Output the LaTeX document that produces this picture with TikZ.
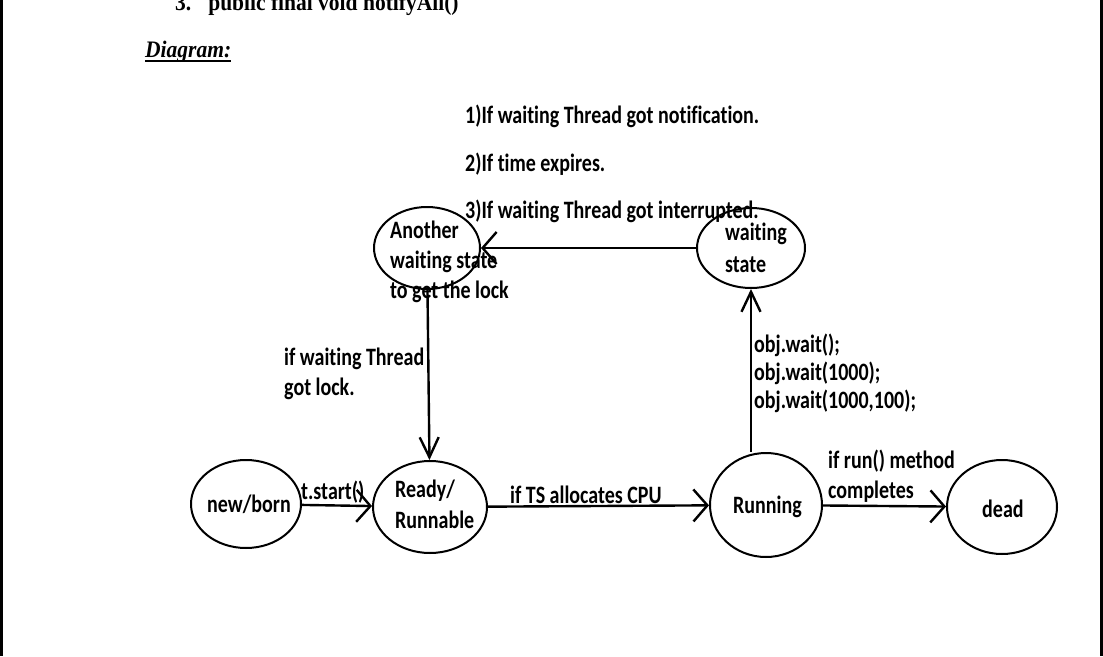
\documentclass[tikz,border=0pt]{standalone}
\usepackage{fontspec}
\setmainfont{Carlito}[Ligatures={NoCommon,NoRare},Contextuals=NoAlternate]
\newfontfamily\timesf{Liberation Serif}
\usetikzlibrary{shapes.geometric,arrows.meta}
\newcommand\vs[1]{\scalebox{1}[1.25]{#1}}
\tikzset{
  st/.style={ellipse, draw, line width=2pt, inner sep=0pt},
  lbl/.style={inner sep=0pt, anchor=base west, font=\fontsize{20}{24}\selectfont\bfseries},
  arrh/.style={line width=2.4pt, -{Straight Barb[length=14pt,width=32pt]}},
  arrv/.style={line width=2.4pt, -{Straight Barb[length=20pt,width=19pt]}},
}
\begin{document}
\begin{tikzpicture}[x=1pt,y=-1pt]
\path[use as bounding box] (0,0) rectangle (1103,656);
% page borders
\draw[line width=3pt] (1.5,0) -- (1.5,656);
\draw[line width=3pt] (1101.5,0) -- (1101.5,656);
% heading texts
\node[inner sep=0pt, anchor=base west, font=\timesf\bfseries\fontsize{21.5}{24}\selectfont] (top) at (175,10) {\scalebox{1}[1.1]{3.\hspace{17pt}public final void notifyAll()}};
\node[inner sep=0pt, anchor=base west, font=\timesf\bfseries\itshape\fontsize{21.5}{24}\selectfont] (diag) at (145,57) {\scalebox{1}[1.1]{Diagram:}};
\draw[line width=2.2pt] ([yshift=-4pt]diag.base west) -- ([yshift=-4pt]diag.base east);
% states
\node[st, minimum width=110pt, minimum height=88pt] (newborn) at (246,504) {};
\node[st, minimum width=114pt, minimum height=92pt] (ready) at (430,507) {};
\node[st, minimum width=112pt, minimum height=104pt] (running) at (766,505) {};
\node[st, minimum width=110pt, minimum height=94pt] (dead) at (1002,507) {};
\node[st, minimum width=106pt, minimum height=82pt] (another) at (427,248) {};
\node[st, minimum width=108pt, minimum height=80pt] (waiting) at (751,248) {};
% state texts
\node[lbl] (t1) at (207,512) {\vs{new/born}};
\node[lbl] (t2) at (395,497) {\vs{Ready/}};
\node[lbl] (t3) at (395,528) {\vs{Runnable}};
\node[lbl] (t4) at (733,513) {\vs{Running}};
\node[lbl] (t5) at (982,517) {\vs{dead}};
\node[lbl] (t6) at (390,238) {\vs{Another}};
\node[lbl] (t7) at (390,268) {\vs{waiting state}};
\node[lbl] (t8) at (390,298) {\vs{to get the lock}};
\node[lbl] (t9) at (725,240) {\vs{waiting}};
\node[lbl] (t10) at (725,272) {\vs{state}};
% connector labels
\node[lbl] (c1) at (465,123) {\vs{1)If waiting Thread got notification.}};
\node[lbl] (c2) at (465,171) {\vs{2)If time expires.}};
\node[lbl] (c3) at (465,218) {\vs{3)If waiting Thread got interrupted.}};
\node[lbl] (c4) at (284,365) {\vs{if waiting Thread}};
\node[lbl] (c5) at (284,395) {\vs{got lock.}};
\node[lbl] (c6) at (754,352) {\vs{obj.wait();}};
\node[lbl] (c7) at (754,380) {\vs{obj.wait(1000);}};
\node[lbl] (c8) at (754,408) {\vs{obj.wait(1000,100);}};
\node[lbl] (c9) at (828,468) {\vs{if run() method}};
\node[lbl] (c10) at (828,498) {\vs{completes}};
\node[lbl] (c11) at (301,499) {\vs{t.start()}};
\node[lbl] (c12) at (510,503) {\vs{if TS allocates CPU}};
% connectors
\draw[arrh] (newborn) -- (ready);
\draw[arrh] (ready) -- (running);
\draw[arrh] (running) -- (dead);
\draw[arrh] (waiting) -- (another);
\draw[arrv] (another) -- (ready);
\draw[arrv] (running.north -| waiting.south) -- (waiting.south);
\end{tikzpicture}
\end{document}
